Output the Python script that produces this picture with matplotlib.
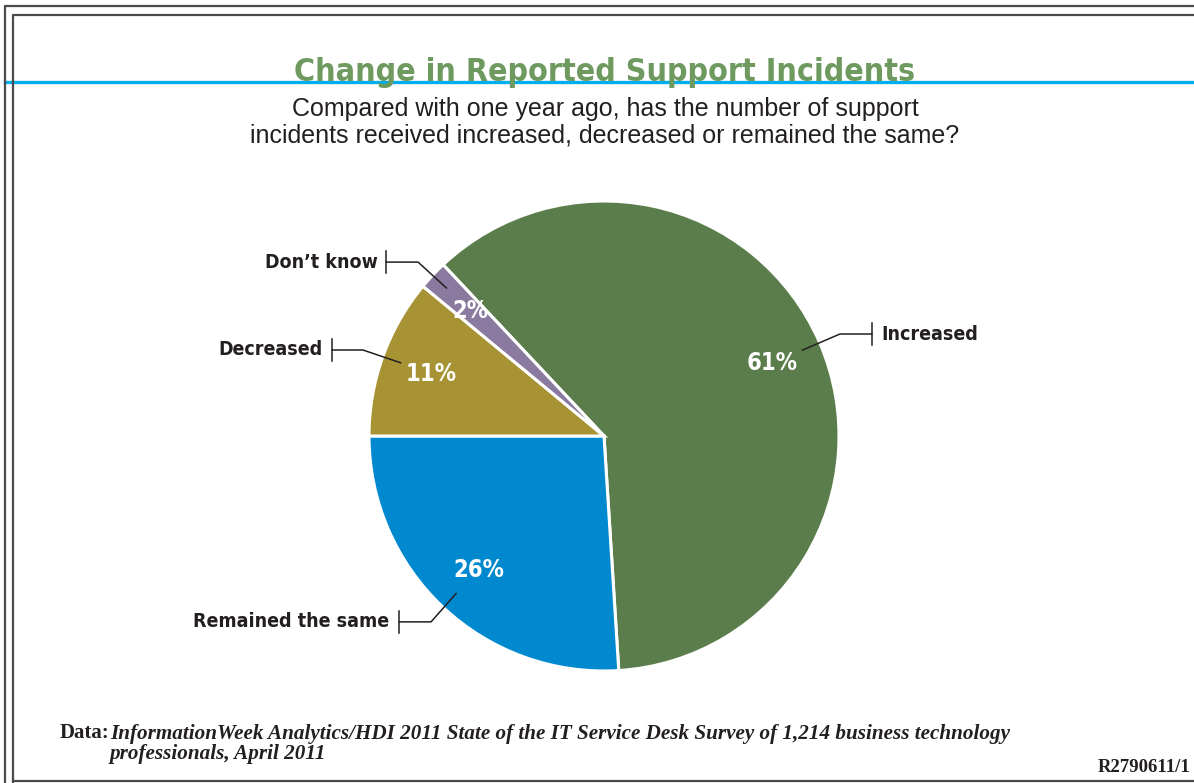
import numpy as np
import matplotlib.pyplot as plt
from matplotlib.lines import Line2D

# ответы опроса
labels = ["Increased", "Remained the same", "Decreased", "Don\u2019t know"]
values = [61, 26, 11, 2]
colors = ["#5a7d4b", "#0089cf", "#a89334", "#8a7aa0"]

title = "Change in Reported Support Incidents"
subtitle = ("Compared with one year ago, has the number of support\n"
            "incidents received increased, decreased or remained the same?")
source = ("InformationWeek Analytics/HDI 2011 State of the IT Service Desk Survey of 1,214 business technology\n"
          "professionals, April 2011")
code = "R2790611/1"

# выноски: излом линии (в единицах радиуса), x засечки, x текста, выравнивание
callouts = [
    ((1.004, 0.434), 1.140, 1.179, "left"),
    ((-0.736, -0.791), -0.872, -0.915, "right"),
    ((-1.026, 0.366), -1.157, -1.196, "right"),
    ((-0.791, 0.740), -0.928, -0.962, "right"),
]

narrow = dict(family="DejaVu Sans", fontstretch="condensed", fontweight="bold")
ink = "#231f20"

W, H = 1194, 783
fig = plt.figure(figsize=(W / 100, H / 100), dpi=100)
fig.patch.set_facecolor("white")

# фон в пикселях: рамки, голубая линия, тексты
bg = fig.add_axes([0, 0, 1, 1])
bg.set_xlim(0, W)
bg.set_ylim(H, 0)
bg.axis("off")

frame = "#4a4a4a"
bg.plot([4.5, 4.5, W + 5], [H + 5, 5.5, 5.5], color=frame, lw=1.6)
bg.plot([12.5, 12.5, W + 5], [H + 5, 14.5, 14.5], color=frame, lw=1.6)
bg.plot([12.5, W + 5], [781, 781], color=frame, lw=1.6)
bg.plot([5, W + 5], [82, 82], color="#00aeef", lw=2.4, zorder=1)

bg.text(605, 81, title, ha="center", va="baseline", fontsize=23,
        color="#6f9a5f", zorder=3, **narrow)
bg.text(605, 122, subtitle, ha="center", va="center", fontsize=18,
        family=["Liberation Sans", "DejaVu Sans"], color=ink, linespacing=1.12)

serif = ["Liberation Serif", "DejaVu Serif"]
bg.text(60, 733, "Data:", ha="left", va="center", fontsize=15, fontweight="bold",
        family=serif, color=ink)
bg.text(110, 744, source, ha="left", va="center", fontsize=15.2, fontweight="bold",
        fontstyle="italic", family=serif, color=ink, linespacing=1.0)
bg.text(1190, 767, code, ha="right", va="center", fontsize=13.5, fontweight="bold",
        family=serif, color=ink)

# круговая диаграмма
cx, cy, r = 604, 436, 235
ax = fig.add_axes([(cx - r) / W, (H - cy - r) / H, 2 * r / W, 2 * r / H])
start = 180 + (values[0] + values[1]) * 3.6
wedges, _, autotexts = ax.pie(
    values, colors=colors, startangle=start, counterclock=False, radius=1,
    autopct="%d%%", pctdistance=0.78,
    wedgeprops=dict(edgecolor="white", linewidth=2.2),
    textprops=dict(color="white", fontsize=17, **narrow),
)
ax.set_xlim(-1, 1)
ax.set_ylim(-1, 1)
ax.set_aspect("equal")
ax.axis("off")

for w, lab, (elbow, tick_x, text_x, ha) in zip(wedges, labels, callouts):
    mid = np.deg2rad((w.theta1 + w.theta2) / 2)
    p0 = (0.92 * np.cos(mid), 0.92 * np.sin(mid))
    ex, ey = elbow
    ax.add_line(Line2D([p0[0], ex, tick_x], [p0[1], ey, ey], color=ink, lw=1.1,
                       clip_on=False))
    ax.add_line(Line2D([tick_x, tick_x], [ey - 0.047, ey + 0.047], color=ink, lw=1.1,
                       clip_on=False))
    ax.text(text_x, ey, lab, ha=ha, va="center", fontsize=14, color=ink,
            clip_on=False, **narrow)

fig.savefig("out.png", dpi=100)
